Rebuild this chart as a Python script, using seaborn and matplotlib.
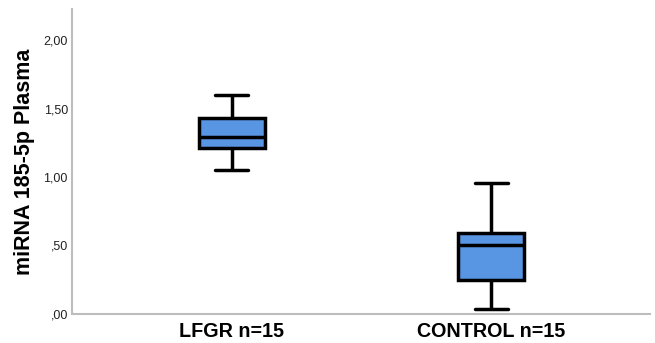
import matplotlib
matplotlib.use("Agg")
import matplotlib.pyplot as plt
import seaborn as sns
import pandas as pd

# Five-number summaries: min, Q1, median, Q3, max
groups = ["LFGR n=15", "CONTROL n=15"]
lfgr_values = [1.05, 1.21, 1.29, 1.43, 1.60]
control_values = [0.035, 0.25, 0.505, 0.59, 0.96]
y_ticks = [0.0, 0.5, 1.0, 1.5, 2.0]
y_tick_labels = [",00", ",50", "1,00", "1,50", "2,00"]
y_label = "miRNA 185-5p Plasma"

df = pd.DataFrame({
    "group": [groups[0]] * len(lfgr_values) + [groups[1]] * len(control_values),
    "value": lfgr_values + control_values,
})

sns.set_theme(style="white")
plt.rcParams["font.family"] = ["Liberation Sans", "DejaVu Sans"]

fig = plt.figure(figsize=(6.55, 3.43), dpi=100)
ax = fig.add_axes([0.110, 0.085, 0.882, 0.889])

line_kw = dict(color="black", linewidth=2.5)
sns.boxplot(data=df, x="group", y="value", order=groups, ax=ax,
            whis=(0, 100), width=0.254, color="#5895E2",
            boxprops=dict(facecolor="#5895E2", edgecolor="black", linewidth=2.5),
            medianprops=line_kw, whiskerprops=line_kw, capprops=line_kw,
            showfliers=False, saturation=1)

ax.set_xlim(-0.615, 1.61)
ax.set_ylim(0, 2.23)
ax.set_yticks(y_ticks)
ax.set_yticklabels(y_tick_labels, fontsize=9, color="#222222")
ax.set_xticks([0, 1])
ax.set_xticklabels(groups, fontsize=14.2, fontweight="bold", color="black")
ax.tick_params(axis="both", length=0)
ax.tick_params(axis="y", pad=3)
ax.tick_params(axis="x", pad=6)
ax.set_xlabel("")
ax.set_ylabel(y_label, fontsize=15.5, fontweight="bold", color="black", labelpad=6)

for s in ["top", "right"]:
    ax.spines[s].set_visible(False)
for s in ["left", "bottom"]:
    ax.spines[s].set_color("#bdbdbd")
    ax.spines[s].set_linewidth(1.5)

fig.savefig("out.png", dpi=100)
